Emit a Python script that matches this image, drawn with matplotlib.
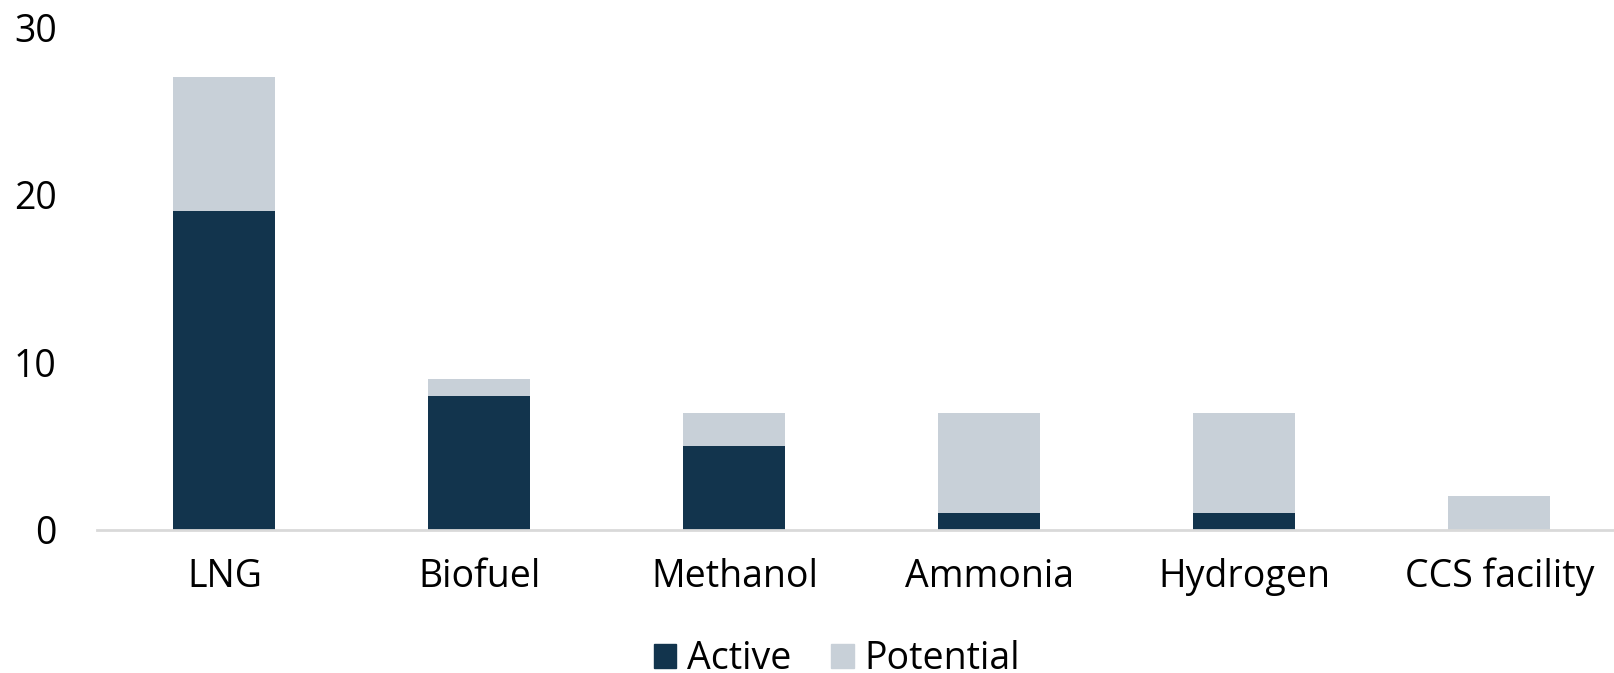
import matplotlib
matplotlib.use("Agg")
import matplotlib.pyplot as plt
from matplotlib.patches import Patch

plt.rcParams['font.family'] = ['Open Sans', 'DejaVu Sans']

categories = ["LNG", "Biofuel", "Methanol", "Ammonia", "Hydrogen", "CCS facility"]
active = [19, 8, 5, 1, 1, 0]
potential = [8, 1, 2, 6, 6, 2]
yticks = [0, 10, 20, 30]

c_active = "#12344D"
c_potential = "#C8D0D8"

fig = plt.figure(figsize=(16.14, 6.73), dpi=100)
ax = fig.add_axes([97 / 1614, 143 / 673, 1 - 97 / 1614, (530 - 27) / 673])

x = range(len(categories))
ax.bar(x, active, width=0.4, color=c_active, label="Active", zorder=2)
ax.bar(x, potential, width=0.4, bottom=active, color=c_potential, label="Potential", zorder=2)

ax.set_xlim(-0.5, 5.45)
ax.set_ylim(0, 30)
ax.set_yticks(yticks)
ax.set_xticks(list(x))
ax.set_xticklabels(categories)
ax.tick_params(axis='both', length=0, labelsize=27, colors="#000000")
ax.tick_params(axis='y', pad=29)
ax.tick_params(axis='x', pad=20)

for side in ("top", "right", "left"):
    ax.spines[side].set_visible(False)
ax.spines["bottom"].set_color("#D9D9D9")
ax.spines["bottom"].set_linewidth(2)

handles = [Patch(color=c_active, label="Active"), Patch(color=c_potential, label="Potential")]
fig.legend(handles=handles, loc="center", bbox_to_anchor=(837 / 1614, 1 - 659 / 673),
           ncol=2, frameon=False, fontsize=27, handlelength=0.6, handleheight=0.6,
           handletextpad=0.3, columnspacing=1.05, borderpad=0)

fig.savefig("out.png", dpi=100)
